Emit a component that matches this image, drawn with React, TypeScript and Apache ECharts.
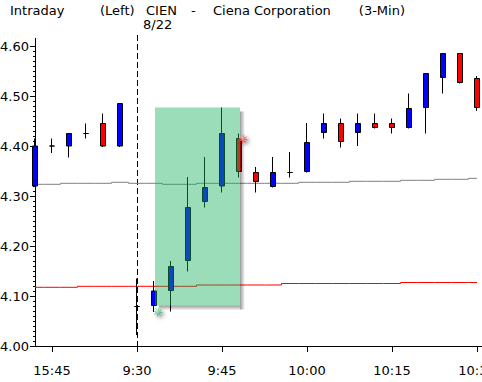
import React, { useEffect, useRef } from 'react';
import * as echarts from 'echarts';

const categories = ['15:42', '15:45', '15:48', '15:51', '15:54', '15:57', '9:30', '9:33', '9:36', '9:39', '9:42', '9:45', '9:48', '9:51', '9:54', '9:57', '10:00', '10:03', '10:06', '10:09', '10:12', '10:15', '10:18', '10:21', '10:24', '10:27', '10:30'];
const opens = [4.320, 4.400, 4.400, 4.425, 4.445, 4.400, 4.079, 4.081, 4.111, 4.171, 4.289, 4.320, 4.415, 4.347, 4.319, 4.347, 4.349, 4.427, 4.445, 4.427, 4.445, 4.445, 4.437, 4.477, 4.537, 4.585, 4.535];
const closes = [4.400, 4.400, 4.425, 4.425, 4.400, 4.485, 4.079, 4.110, 4.159, 4.277, 4.317, 4.425, 4.349, 4.329, 4.347, 4.347, 4.407, 4.445, 4.409, 4.445, 4.437, 4.437, 4.475, 4.545, 4.585, 4.527, 4.477];
const lows = [4.318, 4.386, 4.377, 4.415, 4.398, 4.398, 4.022, 4.068, 4.069, 4.149, 4.277, 4.307, 4.337, 4.307, 4.317, 4.337, 4.347, 4.415, 4.397, 4.400, 4.435, 4.425, 4.435, 4.425, 4.505, 4.525, 4.470];
const highs = [4.415, 4.415, 4.425, 4.445, 4.465, 4.485, 4.135, 4.130, 4.170, 4.338, 4.378, 4.477, 4.425, 4.358, 4.378, 4.388, 4.446, 4.465, 4.455, 4.465, 4.465, 4.455, 4.505, 4.545, 4.585, 4.585, 4.540];
const grayLine = [4.3234, 4.3234, 4.3254, 4.3254, 4.3254, 4.3274, 4.3254, 4.3254, 4.3234, 4.3234, 4.3254, 4.3254, 4.3254, 4.3254, 4.3254, 4.3254, 4.3274, 4.3274, 4.3274, 4.3294, 4.3294, 4.3294, 4.3314, 4.3314, 4.3334, 4.3334, 4.3354];
const redLine = [4.1174, 4.1174, 4.1174, 4.1194, 4.1194, 4.1194, 4.1194, 4.1194, 4.1194, 4.1194, 4.1220, 4.1220, 4.1220, 4.1220, 4.1220, 4.1250, 4.1250, 4.1250, 4.1250, 4.1250, 4.1250, 4.1250, 4.1270, 4.1270, 4.1270, 4.1270, 4.1270];
const yTicks = [4.0, 4.1, 4.2, 4.3, 4.4, 4.5, 4.6];
const buySignal = { cat: '9:33', price: 4.068 };
const sellSignal = { cat: '9:48', price: 4.414 };
const zoneStart = '9:33';
const zoneEnd = '9:48';
const zoneLow = 4.081;
const zoneHigh = 4.477;
const sessionStart = '9:30';
const sessionDate = '8/22';
const titleParts = ['Intraday', '(Left)', 'CIEN', '-', 'Ciena Corporation', '(3-Min)'];

const FONT = '"DejaVu Sans", sans-serif';

const starPath = (() => {
  const pts: string[] = [];
  const n = 8;
  for (let k = 0; k < n * 2; k++) {
    const r = k % 2 === 0 ? 1 : 0.42;
    const a = (Math.PI * k) / n - Math.PI / 2 + 0.2;
    pts.push(`${(r * Math.cos(a)).toFixed(3)} ${(r * Math.sin(a)).toFixed(3)}`);
  }
  return 'path://M' + pts.join(' L') + ' Z';
})();

const tickEvery = (index: number) => (index - 1) % 5 === 0;

export default function App() {
  const ref = useRef<HTMLDivElement>(null);
  useEffect(() => {
    if (!ref.current) return;
    const chart = echarts.init(ref.current, undefined, { renderer: 'svg', width: 482, height: 382 });
    const candleData = categories.map((_, i) => [opens[i], closes[i], lows[i], highs[i]]);
    chart.setOption({
      animation: false,
      backgroundColor: '#fff',
      textStyle: { fontFamily: FONT },
      grid: { left: 35, top: 46, right: 5, bottom: 36, containLabel: false, outerBoundsMode: 'none' },
      xAxis: {
        type: 'category',
        data: categories,
        boundaryGap: false,
        axisLine: { show: true, lineStyle: { color: '#000', width: 1 } },
        axisTick: { show: true, interval: tickEvery, length: 6, lineStyle: { color: '#000' } },
        axisLabel: { interval: tickEvery, margin: 18, color: '#000', fontSize: 13, fontFamily: FONT },
        splitLine: { show: false },
      },
      yAxis: {
        type: 'value',
        min: yTicks[0],
        max: yTicks[yTicks.length - 1],
        interval: 0.1,
        axisLine: { show: true, lineStyle: { color: '#000', width: 1 } },
        axisTick: { show: true, length: 5, lineStyle: { color: '#000' } },
        minorTick: { show: true, splitNumber: 10, length: 2, lineStyle: { color: '#000' } },
        axisLabel: { formatter: (v: number) => v.toFixed(2), margin: 6, color: '#000', fontSize: 13, fontFamily: FONT },
        splitLine: { show: false },
      },
      series: [
        {
          type: 'line', data: grayLine, step: 'middle', symbol: 'none', z: 1,
          lineStyle: { color: '#808080', width: 1 }, silent: true,
        },
        {
          type: 'line', data: redLine, step: 'middle', symbol: 'none', z: 1,
          lineStyle: { color: '#ff0000', width: 1 }, silent: true,
        },
        {
          type: 'candlestick', data: candleData, barWidth: 5, z: 2, clip: true,
          itemStyle: {
            color: '#0000ff', color0: '#ff0000',
            borderColor: '#000', borderColor0: '#000', borderColorDoji: '#000', borderWidth: 1,
          },
        },
        {
          type: 'scatter', z: 20, symbol: starPath, symbolSize: 10, symbolOffset: [4, 0],
          data: [
            {
              value: [categories.indexOf(buySignal.cat), buySignal.price],
              itemStyle: {
                color: new echarts.graphic.RadialGradient(0.4, 0.4, 0.7, [
                  { offset: 0, color: '#9ff5c0' }, { offset: 1, color: '#087a38' },
                ]),
                shadowBlur: 4, shadowColor: 'rgba(0,0,0,0.6)', shadowOffsetX: 2, shadowOffsetY: 2,
              },
            },
            {
              value: [categories.indexOf(sellSignal.cat), sellSignal.price],
              itemStyle: {
                color: new echarts.graphic.RadialGradient(0.4, 0.4, 0.7, [
                  { offset: 0, color: '#ffb0b0' }, { offset: 1, color: '#d00000' },
                ]),
                shadowBlur: 4, shadowColor: 'rgba(0,0,0,0.6)', shadowOffsetX: 2, shadowOffsetY: 2,
              },
            },
          ],
        },
      ],
    });

    const p = (c: number, v: number) => chart.convertToPixel({ gridIndex: 0 }, [c, v]) as number[];
    const [zx1, zy1] = p(categories.indexOf(zoneStart), zoneHigh);
    const [zx2, zy2] = p(categories.indexOf(zoneEnd), zoneLow);
    const rx = zx1 + 1;
    const rw = zx2 - zx1;
    const rh = zy2 - zy1;
    const [sx, sBottom] = p(categories.indexOf(sessionStart), yTicks[0]);
    const [, yTop] = p(0, yTicks[yTicks.length - 1]);
    const [axX] = p(0, yTicks[0]);
    const [lastX, axY] = p(categories.length - 1, yTicks[0]);

    const tStyle = (text: string, align = 'left') => ({ text, font: `13px ${FONT}`, fill: '#000', verticalAlign: 'middle', align });

    chart.setOption({
      graphic: [
        { type: 'text', x: 10, y: 10, z: 30, style: tStyle(titleParts[0]) },
        { type: 'text', x: 100, y: 10, z: 30, style: tStyle(titleParts[1]) },
        { type: 'text', x: 146, y: 10, z: 30, style: tStyle(titleParts[2]) },
        { type: 'text', x: 191, y: 10, z: 30, style: tStyle(titleParts[3]) },
        { type: 'text', x: 213, y: 10, z: 30, style: tStyle(titleParts[4]) },
        { type: 'text', x: 405, y: 10, z: 30, style: tStyle(titleParts[5], 'right') },
        { type: 'text', x: sx + 6, y: 24, z: 30, style: tStyle(sessionDate) },
        {
          type: 'line', z: 1, silent: true,
          shape: { x1: sx + 0.5, y1: 35, x2: sx + 0.5, y2: sBottom },
          style: { stroke: '#000', lineWidth: 1, lineDash: [6, 3] },
        },
        {
          type: 'line', z: 5, silent: true,
          shape: { x1: axX + 0.5, y1: 38, x2: axX + 0.5, y2: yTop },
          style: { stroke: '#000', lineWidth: 1 },
        },
        {
          type: 'line', z: 5, silent: true,
          shape: { x1: lastX, y1: axY + 0.5, x2: 482, y2: axY + 0.5 },
          style: { stroke: '#000', lineWidth: 1 },
        },
        {
          type: 'rect', z: 9, silent: true,
          shape: { x: rx + rw, y: zy1 + 4, width: 5, height: rh },
          style: {
            fill: new echarts.graphic.LinearGradient(0, 0, 1, 0, [
              { offset: 0, color: 'rgba(0,0,0,0.4)' }, { offset: 1, color: 'rgba(0,0,0,0)' },
            ]),
          },
        },
        {
          type: 'rect', z: 9, silent: true,
          shape: { x: rx + 4, y: zy1 + rh, width: rw - 4, height: 5 },
          style: {
            fill: new echarts.graphic.LinearGradient(0, 0, 0, 1, [
              { offset: 0, color: 'rgba(0,0,0,0.4)' }, { offset: 1, color: 'rgba(0,0,0,0)' },
            ]),
          },
        },
        {
          type: 'rect', z: 10, silent: true,
          shape: { x: rx, y: zy1, width: rw, height: rh },
          style: { fill: 'rgba(23,174,93,0.43)' },
        },
      ],
    });
    return () => chart.dispose();
  }, []);
  return <div ref={ref} style={{ position: 'absolute', left: 0, top: 0, width: 482, height: 382, background: '#fff' }} />;
}
